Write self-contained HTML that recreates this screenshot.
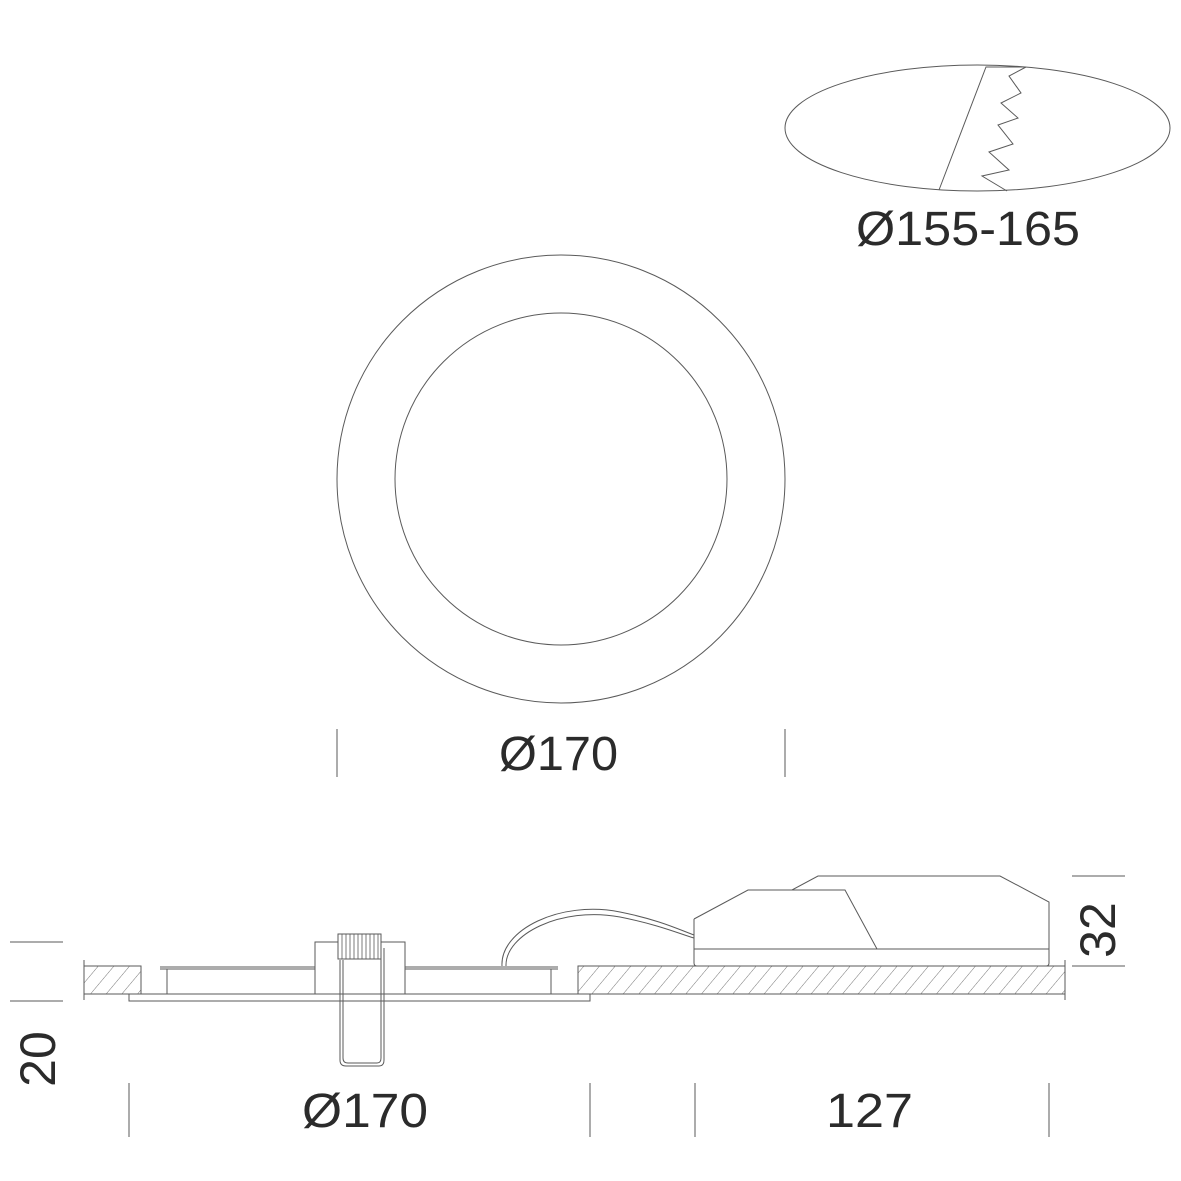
<!DOCTYPE html>
<html><head><meta charset="utf-8"><style>
html,body{margin:0;padding:0;background:#fff}
svg{display:block}
text{font-family:"Liberation Sans",sans-serif;fill:#2b2b2b}
</style></head><body>
<svg width="1181" height="1181" viewBox="0 0 1181 1181" xmlns="http://www.w3.org/2000/svg">
<defs>
<pattern id="h" patternUnits="userSpaceOnUse" width="12" height="12" patternTransform="rotate(40)">
<line x1="0" y1="0" x2="0" y2="12" stroke="#666" stroke-width="0.9"/>
</pattern>
</defs>
<g fill="none" stroke="#5a5a5a" stroke-width="1">
<ellipse cx="977.5" cy="128" rx="192.5" ry="63"/>
<polyline points="939,190 986,67 1026,67 1009,76 1021,93 1001,103 1018,118 998,125 1013,144 989,152 1009,170 982,176 1007,191"/>
<circle cx="561" cy="479" r="224"/>
<circle cx="561" cy="479" r="166"/>
<line x1="337" y1="729" x2="337" y2="777"/>
<line x1="785" y1="729" x2="785" y2="777"/>
<line x1="129" y1="1083" x2="129" y2="1137"/>
<line x1="590" y1="1083" x2="590" y2="1137"/>
<line x1="695" y1="1083" x2="695" y2="1137"/>
<line x1="1049" y1="1083" x2="1049" y2="1137"/>
<line x1="10" y1="942" x2="63" y2="942"/>
<line x1="10" y1="1001" x2="63" y2="1001"/>
<line x1="1072" y1="876" x2="1125" y2="876"/>
<line x1="1072" y1="966" x2="1125" y2="966"/>
<rect x="84" y="966" width="57" height="28" fill="url(#h)"/>
<rect x="578" y="966" width="487" height="28" fill="url(#h)"/>
<line x1="84" y1="960" x2="84" y2="1000"/>
<line x1="1065" y1="960" x2="1065" y2="1000"/>
<rect x="129" y="994" width="461" height="7" fill="#fff"/>
<line x1="160" y1="967" x2="315" y2="967"/>
<line x1="160" y1="969" x2="315" y2="969"/>
<line x1="405" y1="967" x2="558" y2="967"/>
<line x1="405" y1="969" x2="558" y2="969"/>
<line x1="167" y1="969" x2="167" y2="994"/>
<line x1="551" y1="969" x2="551" y2="994"/>
<polyline points="315,994 315,942 405,942 405,994"/>
<rect x="338" y="934" width="43" height="25" fill="#fff"/>
<g stroke-width="0.8">
<line x1="342" y1="934" x2="342" y2="959"/><line x1="346" y1="934" x2="346" y2="959"/>
<line x1="350" y1="934" x2="350" y2="959"/><line x1="354" y1="934" x2="354" y2="959"/>
<line x1="358" y1="934" x2="358" y2="959"/><line x1="362" y1="934" x2="362" y2="959"/>
<line x1="366" y1="934" x2="366" y2="959"/><line x1="370" y1="934" x2="370" y2="959"/>
<line x1="374" y1="934" x2="374" y2="959"/><line x1="378" y1="934" x2="378" y2="959"/>
</g>
<path d="M340,960 V1060 Q340,1066 346,1066 H379 Q384,1066 384,1060 V948"/>
<path d="M343,960 V1058 Q343,1063 348,1063 H377 Q381,1063 381,1058 V948"/>
<path d="M502,966 C500,930 560,900 620,912 C660,920 680,930 694,935"/>
<path d="M506,966 C505,935 560,906 620,917 C660,925 680,934 694,938"/>
<path d="M694,919 L748,890 L845,890 L877,949"/>
<path d="M694,919 V963 Q694,966 697,966 H1046 Q1049,966 1049,963 V902 L1000,876 L818,876 L792,890"/>
<line x1="694" y1="949" x2="1049" y2="949"/>
</g>
<text x="856" y="245" font-size="48" textLength="224" lengthAdjust="spacingAndGlyphs">Ø155-165</text>
<text x="499" y="770" font-size="48" textLength="119" lengthAdjust="spacingAndGlyphs">Ø170</text>
<text x="302" y="1127" font-size="48" textLength="126" lengthAdjust="spacingAndGlyphs">Ø170</text>
<text x="826" y="1127" font-size="48" textLength="87" lengthAdjust="spacingAndGlyphs">127</text>
<text transform="translate(55,1059) rotate(-90)" font-size="50" text-anchor="middle">20</text>
<text transform="translate(1115,930) rotate(-90)" font-size="50" text-anchor="middle">32</text>
</svg>
</body></html>
